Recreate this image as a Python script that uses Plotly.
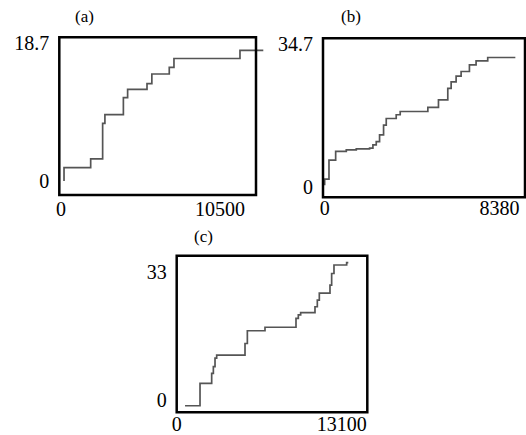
import plotly.graph_objects as go

# Panel (a)
a_x = [200, 200, 1960, 2750, 2900, 4120, 4400, 5680, 6000, 7150, 7460, 11820, 13360]
a_y = [0, 1.8, 3.0, 7.8, 9.0, 11.3, 12.4, 13.2, 14.5, 15.4, 16.6, 17.7, 17.7]
a_xticks = [0, 10500]
a_yticks = [0, 18.7]

# Panel (b)
b_x = [0, 0, 207, 527, 1037, 1516, 2155, 2314, 2474, 2633, 2825, 2953, 3431, 3623,
       4948, 5458, 5905, 6065, 6304, 6544, 6943, 7262, 7820, 9145]
b_y = [0.5, 2.0, 6.6, 8.7, 9.1, 9.3, 9.5, 10.3, 11.1, 12.7, 15.1, 16.7, 17.6, 18.4,
       19.4, 21.2, 24.0, 25.6, 27.0, 28.1, 29.7, 30.7, 31.5, 31.5]
b_xticks = [0, 8380]
b_yticks = [0, 34.7]

# Panel (c)
c_x = [662, 1852, 2778, 2911, 3043, 3175, 5424, 5610, 7012, 9473, 9658, 9843,
       10981, 11166, 11325, 12172, 12304, 12489, 13495, 13627]
c_y = [-1.5, 4.3, 6.9, 8.6, 10.8, 11.6, 14.6, 17.9, 18.8, 21.1, 22.0, 22.6,
       24.1, 25.8, 27.6, 29.7, 32.7, 34.9, 35.5, 35.5]
c_xticks = [0, 13100]
c_yticks = [0, 33]

titles = ["(a)", "(b)", "(c)"]

W, H = 526, 435
FONT = "Liberation Serif"
LINE = "#555555"

fig = go.Figure()
fig.add_trace(go.Scatter(x=a_x, y=a_y, mode="lines", line=dict(color=LINE, width=1.7, shape="hv"),
                         xaxis="x", yaxis="y", showlegend=False))
fig.add_trace(go.Scatter(x=b_x, y=b_y, mode="lines", line=dict(color=LINE, width=1.7, shape="hv"),
                         xaxis="x2", yaxis="y2", showlegend=False))
fig.add_trace(go.Scatter(x=c_x, y=c_y, mode="lines", line=dict(color=LINE, width=1.7, shape="hv"),
                         xaxis="x3", yaxis="y3", showlegend=False))

def px_x(p):
    return p / W

def px_y(p):
    return 1 - p / H

def fmt(v):
    return ("%g" % v)

def xax(domain, rng, ticks, anchor, standoff=5):
    return dict(domain=domain, range=rng, tickvals=ticks, ticktext=[fmt(t) for t in ticks],
                showgrid=False, zeroline=False, showline=False, ticks="", automargin=False,
                ticklabelstandoff=standoff, tickfont=dict(family=FONT, size=20, color="black"),
                anchor=anchor, fixedrange=True)

def yax(domain, rng, ticks, anchor):
    return dict(domain=domain, range=rng, tickvals=ticks, ticktext=[fmt(t) for t in ticks],
                showgrid=False, zeroline=False, showline=False, ticks="", automargin=False,
                ticklabelstandoff=9, tickfont=dict(family=FONT, size=20, color="black"),
                anchor=anchor, fixedrange=True)

# panel boxes in pixels
a_box = (59.3, 37.3, 256.0, 195.0)
a_ext = 266.0
b_box = (323.0, 38.3, 525.0, 197.3)
c_box = (176.7, 255.7, 367.3, 412.3)

fig.update_layout(
    width=W, height=H, margin=dict(l=0, r=0, t=0, b=0),
    paper_bgcolor="white", plot_bgcolor="white",
    xaxis=xax([px_x(a_box[0]), px_x(a_ext)], [-112, 13538], a_xticks, "y", 0),
    yaxis=yax([px_y(a_box[3]), px_y(a_box[1])], [-1.90, 19.47], a_yticks, "x"),
    xaxis2=xax([px_x(b_box[0]), px_x(b_box[2])], [-80, 9608], b_xticks, "y2", -3),
    yaxis2=yax([px_y(b_box[3]), px_y(b_box[1])], [-2.43, 36.16], b_yticks, "x2"),
    xaxis3=xax([px_x(c_box[0]), px_x(c_box[2])], [0, 15135], c_xticks, "y3", -2),
    yaxis3=yax([px_y(c_box[3]), px_y(c_box[1])], [-3.19, 37.3], c_yticks, "x3"),
)

a_frac = (a_box[2] - a_box[0]) / (a_ext - a_box[0])
for xr, yr, x1 in [("x domain", "y domain", a_frac), ("x2 domain", "y2 domain", 1.0),
                   ("x3 domain", "y3 domain", 1.0)]:
    fig.add_shape(type="rect", xref=xr, yref=yr, x0=0, x1=x1, y0=0, y1=1,
                  line=dict(color="black", width=2.5), fillcolor="rgba(0,0,0,0)", layer="above")

title_pos = [(84, 16), (351, 16), (203, 236)]
for t, (tx, ty) in zip(titles, title_pos):
    fig.add_annotation(text=t, x=px_x(tx), y=px_y(ty), xref="paper", yref="paper",
                       showarrow=False, xanchor="center", yanchor="middle",
                       font=dict(family=FONT, size=17, color="black"))

fig.write_html("out.html", config={"displayModeBar": False, "staticPlot": True},
               post_script="document.body.style.margin='0';document.body.style.overflow='hidden';")
